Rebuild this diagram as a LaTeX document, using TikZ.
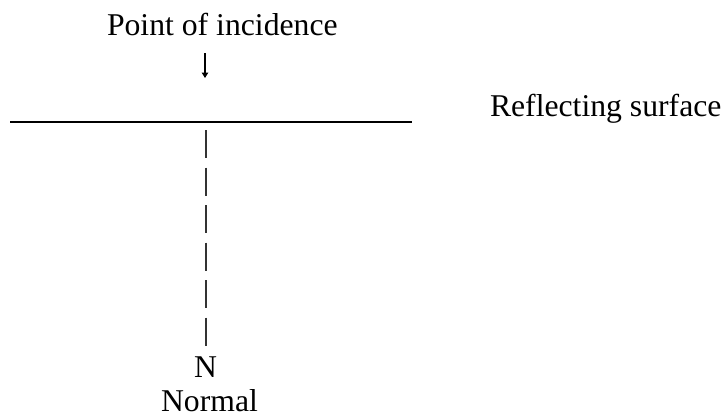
\documentclass[tikz,border=0pt]{standalone}
\usepackage{fontspec}
\setmainfont{Liberation Serif}
\usetikzlibrary{arrows.meta}
\tikzset{
  lbl/.style={inner sep=0pt, outer sep=0pt, font=\fontsize{31.7}{38}\selectfont},
  surf/.style={line width=1.3pt},
  normalline/.style={line width=1.2pt, draw=black!80, dash pattern=on 28pt off 9.5pt},
  pointer/.style={line width=1.2pt, -{Triangle[length=5.5pt,width=6.5pt]}}
}
\begin{document}
\begin{tikzpicture}[x=1pt,y=-1pt]
\useasboundingbox (0,0) rectangle (728,415);
\node[lbl, anchor=base west] (poi) at (107,35) {Point of incidence};
\coordinate (aT) at (205,53);
\coordinate (aB) at (205,78);
\draw[pointer] (aT) -- (aB);
\coordinate (sL) at (10,122);
\coordinate (sR) at (412,122);
\draw[surf] (sL) -- (sR);
\node[lbl, anchor=base west] (rs) at (490,116) {Reflecting surface};
\coordinate (nT) at (206,130);
\coordinate (nB) at (206,346);
\draw[normalline] (nT) -- (nB);
\node[lbl, anchor=base] (N) at (205.5,377) {N};
\node[lbl, anchor=base] (nrm) at (209.5,411) {Normal};
\end{tikzpicture}
\end{document}
